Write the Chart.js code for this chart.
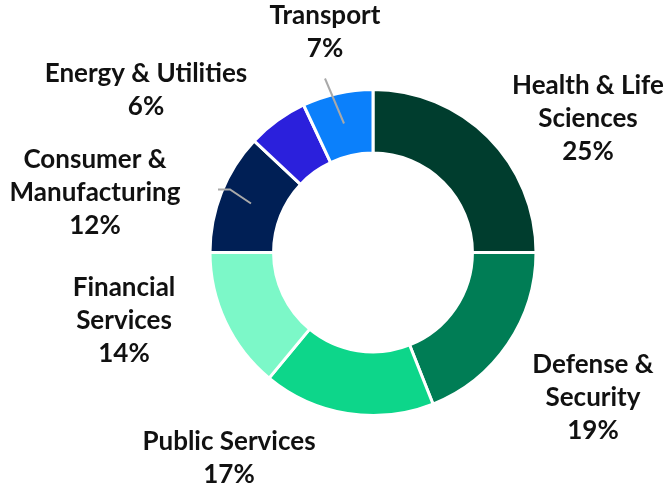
<!DOCTYPE html>
<html><head><meta charset="utf-8">
<script src="https://cdn.jsdelivr.net/npm/chart.js@4.4.1/dist/chart.umd.min.js"></script>
<style>html,body{margin:0;padding:0;background:#fff}#wrap{width:672px;height:486px;position:relative}</style>
</head><body><div id="wrap"><canvas id="c" width="672" height="486"></canvas></div>
<script>
const categories = ["Health & Life\nSciences", "Defense &\nSecurity", "Public Services", "Financial\nServices", "Consumer &\nManufacturing", "Energy & Utilities", "Transport"];
const shares = [25, 19, 17, 14, 12, 6, 7];
const sliceColors = ["#003d2e", "#007d55", "#0dd68a", "#7cf8c8", "#001f55", "#2b20dc", "#0b80fb"];

// label block centres relative to the doughnut centre (layout only)
const labelOffsets = [[215,-134],[220,145],[-144,206],[-249,68],[-278,-60],[-227,-162],[-48,-220]];
// leader lines relative to doughnut centre (layout only)
const leaders = {6: [[-48,-174],[-29,-129]], 4: [[-155,-63],[-143,-63],[-122,-49]]};

const labelPlugin = {
  id: 'labels',
  afterDatasetsDraw(chart) {
    const ctx = chart.ctx;
    const meta = chart.getDatasetMeta(0);
    const cx = meta.data[0].x, cy = meta.data[0].y;
    ctx.save();
    ctx.strokeStyle = '#a9a9a9';
    ctx.lineWidth = 2;
    Object.keys(leaders).forEach(k => {
      const pts = leaders[k];
      ctx.beginPath();
      pts.forEach((p, i) => { if (i === 0) ctx.moveTo(cx + p[0], cy + p[1]); else ctx.lineTo(cx + p[0], cy + p[1]); });
      ctx.stroke();
    });
    ctx.fillStyle = '#111';
    ctx.font = 'bold 26px Lato';
    ctx.textAlign = 'center';
    ctx.textBaseline = 'middle';
    const lh = 33;
    categories.forEach((c, i) => {
      const lines = c.split('\n').concat([shares[i] + '%']);
      const x = cx + labelOffsets[i][0];
      const y0 = cy + labelOffsets[i][1] - (lines.length - 1) * lh / 2;
      lines.forEach((t, j) => ctx.fillText(t, x, y0 + j * lh));
    });
    ctx.restore();
  }
};

new Chart(document.getElementById('c'), {
  type: 'doughnut',
  data: { labels: categories, datasets: [{ data: shares, backgroundColor: sliceColors, borderColor: '#fff', borderWidth: 3 }] },
  options: {
    responsive: false, animation: false, cutout: '61%',
    layout: { padding: { top: 88, bottom: 69, left: 208, right: 134 } },
    plugins: { legend: { display: false }, tooltip: { enabled: false } }
  },
  plugins: [labelPlugin]
});
</script></body></html>
